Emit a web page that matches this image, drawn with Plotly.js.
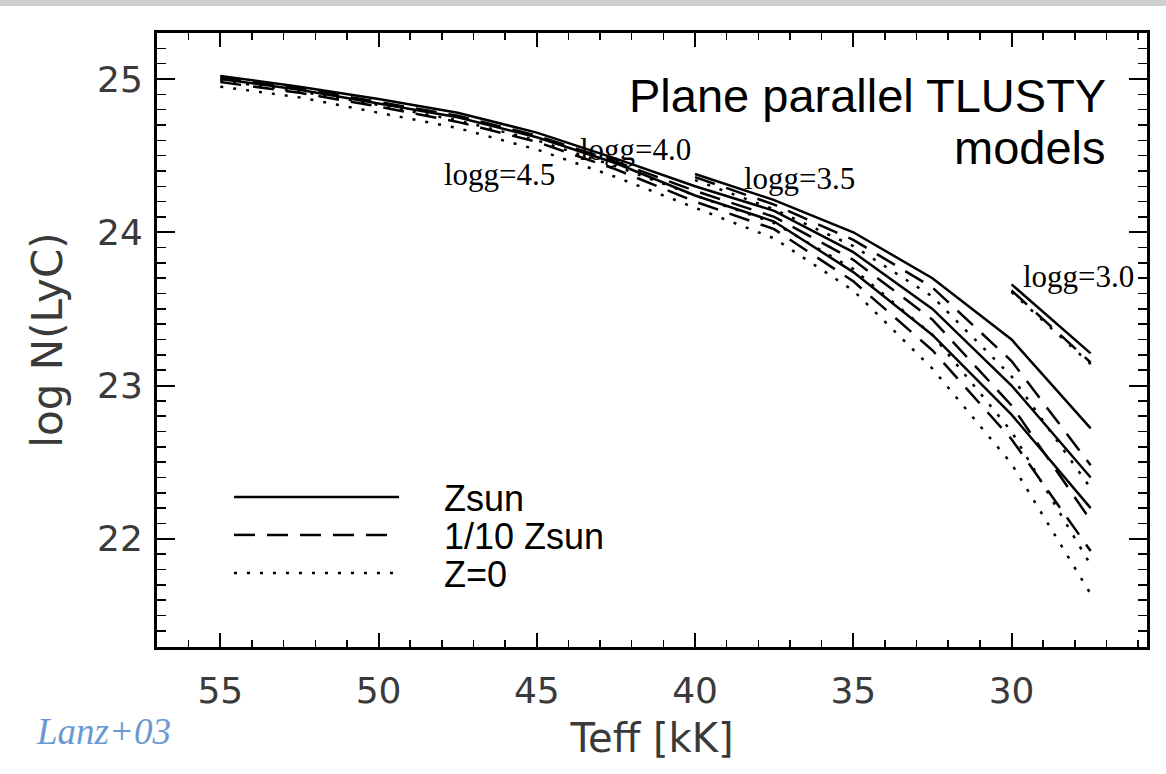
<!DOCTYPE html>
<html>
<head>
<meta charset="utf-8">
<script src="https://cdn.plot.ly/plotly-3.0.1.min.js"></script>
<style>
  html, body { margin: 0; padding: 0; background: #ffffff; }
  #chart { width: 1166px; height: 774px; }
</style>
</head>
<body>
<div id="chart"></div>
<script>
// Effective temperature grids (kK)
const teffFull = [55, 52.5, 50, 47.5, 45, 42.5, 40, 37.5, 35, 32.5, 30, 27.5];
const teffG35 = [40, 37.5, 35, 32.5, 30, 27.5];
const teffG30 = [30, 27.5];

// log N(LyC), logg = 4.0
const g40_zsun  = [25.02, 24.95, 24.87, 24.78, 24.65, 24.48, 24.30, 24.14, 23.87, 23.50, 23.00, 22.40];
const g40_z10   = [25.01, 24.94, 24.85, 24.76, 24.63, 24.46, 24.27, 24.10, 23.82, 23.43, 22.87, 22.12];
const g40_z0    = [24.99, 24.92, 24.83, 24.73, 24.60, 24.43, 24.24, 24.06, 23.76, 23.33, 22.70, 21.83];
// logg = 4.5
const g45_zsun  = [25.00, 24.93, 24.84, 24.75, 24.62, 24.45, 24.24, 24.07, 23.74, 23.33, 22.81, 22.20];
const g45_z10   = [24.98, 24.91, 24.82, 24.72, 24.59, 24.41, 24.20, 24.02, 23.68, 23.23, 22.65, 21.92];
const g45_z0    = [24.95, 24.88, 24.78, 24.68, 24.54, 24.36, 24.16, 23.96, 23.62, 23.11, 22.49, 21.64];
// logg = 3.5
const g35_zsun  = [24.38, 24.21, 24.00, 23.70, 23.30, 22.72];
const g35_z10   = [24.36, 24.18, 23.95, 23.64, 23.16, 22.48];
const g35_z0    = [24.34, 24.15, 23.91, 23.58, 23.06, 22.33];
// logg = 3.0
const g30_zsun  = [23.66, 23.21];
const g30_z10   = [23.62, 23.15];
const g30_z0    = [23.61, 23.14];

const metalNames = ['Zsun', '1/10 Zsun', 'Z=0'];
const loggLabels = ['logg=4.0', 'logg=4.5', 'logg=3.5', 'logg=3.0'];
const titleLines = ['Plane parallel TLUSTY', 'models'];

const styles = [
  {color: '#000000', width: 2.5, dash: 'solid'},
  {color: '#000000', width: 2.5, dash: '21px,12px'},
  {color: '#000000', width: 2.5, dash: '3px,10px'}
];
const legendIds = ['legend', 'legend2', 'legend3'];
const pad = '\u00a0\u00a0\u00a0\u00a0';

const groups = [
  {x: teffFull, ys: [g40_zsun, g40_z10, g40_z0], legend: true},
  {x: teffFull, ys: [g45_zsun, g45_z10, g45_z0], legend: false},
  {x: teffG35, ys: [g35_zsun, g35_z10, g35_z0], legend: false},
  {x: teffG30, ys: [g30_zsun, g30_z10, g30_z0], legend: false}
];

const traces = [];
groups.forEach((g) => {
  g.ys.forEach((y, mi) => {
    traces.push({
      type: 'scatter', mode: 'lines',
      x: g.x, y: y,
      name: pad + metalNames[mi],
      legend: legendIds[mi],
      legendgroup: metalNames[mi],
      showlegend: g.legend,
      line: styles[mi],
      hoverinfo: 'x+y+name'
    });
  });
});

const axisFont = {family: 'DejaVu Sans', size: 36, color: '#3a3a3a'};
const legendBase = {
  x: 0.0727, xanchor: 'left', yanchor: 'middle',
  bgcolor: 'rgba(0,0,0,0)',
  font: {family: 'Liberation Sans', size: 36, color: '#000000'},
  itemwidth: 165
};

const layout = {
  width: 1166, height: 774,
  margin: {l: 157, r: 19, t: 33, b: 127},
  paper_bgcolor: '#ffffff',
  plot_bgcolor: '#ffffff',
  showlegend: true,
  legend: Object.assign({}, legendBase, {y: 0.2443}),
  legend2: Object.assign({}, legendBase, {y: 0.1824}),
  legend3: Object.assign({}, legendBase, {y: 0.1205}),
  xaxis: {
    range: [57.0, 25.72],
    tickmode: 'linear', tick0: 30, dtick: 5,
    ticks: 'inside', ticklen: 14, tickwidth: 2, tickcolor: '#000',
    minor: {dtick: 1, ticks: 'inside', ticklen: 7, tickwidth: 1.5, tickcolor: '#000'},
    showline: true, linewidth: 3, linecolor: '#000', mirror: 'allticks',
    showgrid: false, zeroline: false,
    tickfont: axisFont,
    ticklabelstandoff: 10,
    title: {text: 'Teff [kK]', font: {family: 'DejaVu Sans', size: 40, color: '#3a3a3a'}, standoff: 14}
  },
  yaxis: {
    range: [21.294, 25.30],
    tickmode: 'linear', tick0: 22, dtick: 1,
    ticks: 'inside', ticklen: 18, tickwidth: 2, tickcolor: '#000',
    minor: {dtick: 0.1, ticks: 'inside', ticklen: 9, tickwidth: 1.5, tickcolor: '#000'},
    showline: true, linewidth: 3, linecolor: '#000', mirror: 'allticks',
    showgrid: false, zeroline: false,
    tickfont: axisFont,
    ticklabelstandoff: 4,
    title: {text: 'log N(LyC)', font: {family: 'DejaVu Sans', size: 42, color: '#3a3a3a'}, standoff: 22}
  },
  shapes: [
    {type: 'rect', xref: 'paper', yref: 'paper', x0: -0.2, x1: 1.05, y0: 1.044, y1: 1.06,
     fillcolor: '#cfcfcf', line: {width: 0}, layer: 'below'}
  ],
  annotations: [
    {text: titleLines[0], x: 26.95, y: 24.895, xref: 'x', yref: 'y', xanchor: 'right', yanchor: 'middle',
     showarrow: false, font: {family: 'Liberation Sans', size: 47, color: '#000'}},
    {text: titleLines[1], x: 26.95, y: 24.555, xref: 'x', yref: 'y', xanchor: 'right', yanchor: 'middle',
     showarrow: false, font: {family: 'Liberation Sans', size: 47, color: '#000'}},
    {text: loggLabels[0], x: 41.89, y: 24.539, xref: 'x', yref: 'y', xanchor: 'center', yanchor: 'middle',
     showarrow: false, font: {family: 'Liberation Serif', size: 31, color: '#000'}},
    {text: loggLabels[1], x: 46.17, y: 24.376, xref: 'x', yref: 'y', xanchor: 'center', yanchor: 'middle',
     showarrow: false, font: {family: 'Liberation Serif', size: 31, color: '#000'}},
    {text: loggLabels[2], x: 36.69, y: 24.35, xref: 'x', yref: 'y', xanchor: 'center', yanchor: 'middle',
     showarrow: false, font: {family: 'Liberation Serif', size: 31, color: '#000'}},
    {text: loggLabels[3], x: 27.90, y: 23.711, xref: 'x', yref: 'y', xanchor: 'center', yanchor: 'middle',
     showarrow: false, font: {family: 'Liberation Serif', size: 31, color: '#000'}},
    {text: '<i>Lanz+03</i>', x: -0.124, y: -0.138, xref: 'paper', yref: 'paper', xanchor: 'left', yanchor: 'middle',
     showarrow: false, font: {family: 'Liberation Serif', size: 37, color: '#6b98d2'}}
  ]
};

Plotly.newPlot('chart', traces, layout, {displayModeBar: false, staticPlot: true});
</script>
</body>
</html>
